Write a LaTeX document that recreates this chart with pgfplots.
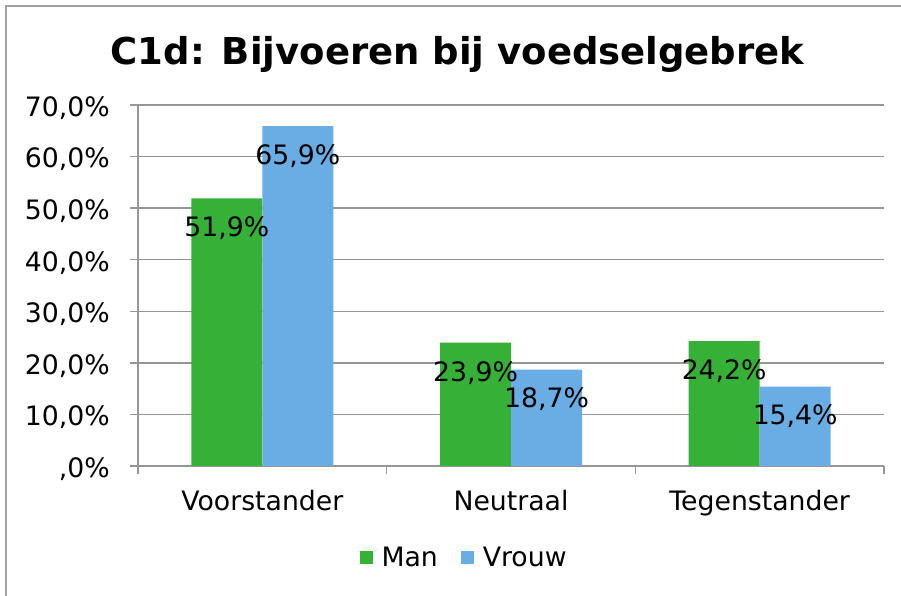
\documentclass[border=0pt]{standalone}
\usepackage{pgfplots}
\pgfplotsset{compat=1.18}
\usepackage{fontspec}
\setmainfont{DejaVu Sans}
\definecolor{mangreen}{RGB}{54,176,55}
\definecolor{vrouwblue}{RGB}{106,173,228}
\definecolor{gridc}{RGB}{150,150,150}
\definecolor{framec}{RGB}{160,160,160}
\newcommand{\lblfont}{\fontsize{26.7bp}{32bp}\selectfont}
\begin{document}
\begin{tikzpicture}
\useasboundingbox (0,0) rectangle (901bp,596bp);
\draw[framec, line width=1.5bp] (6bp,0) -- (6bp,590bp) -- (901bp,590bp);
\node[anchor=base, inner sep=0pt, font=\bfseries\fontsize{37bp}{44bp}\selectfont] at (457.5bp,531bp) {C1d: Bijvoeren bij voedselgebrek};
\begin{axis}[
  at={(138bp,130bp)}, anchor=south west,
  scale only axis, width=746bp, height=361bp,
  /pgf/number format/assume math mode=true,
  ymin=0, ymax=70,
  xmin=-0.5, xmax=2.5,
  ytick={0,10,20,30,40,50,60,70},
  yticklabels={{,0\%},{10,0\%},{20,0\%},{30,0\%},{40,0\%},{50,0\%},{60,0\%},{70,0\%}},
  xtick={-0.5,0.5,1.5,2.5},
  xticklabels={},
  extra x ticks={0,1,2},
  extra x tick labels={Voorstander,Neutraal,Tegenstander},
  extra x tick style={major tick length=0pt, grid=none},
  axis lines=left,
  axis line style={-, draw=gridc, line width=1.5bp},
  tick align=outside,
  major tick length=8bp,
  tick style={draw=gridc, line width=1.5bp},
  ymajorgrids,
  major grid style={draw=gridc, line width=1.5bp},
  ticklabel style={font=\lblfont, inner sep=0pt, text=black},
  yticklabel style={yshift=-3bp},
  yticklabel shift=20bp,
  xticklabel shift=24bp,
  ybar=0pt,
  bar width=71bp,
  nodes near coords={\pgfmathprintnumber[use comma,fixed,fixed zerofill,precision=1]{\pgfplotspointmeta}\%},
  every node near coord/.append style={font=\lblfont, anchor=center, yshift=-30bp, inner sep=0pt, text=black},
  legend style={at={(axis description cs:0.4357,-0.2548)}, anchor=center, draw=none, fill=none,
    legend columns=-1, font=\lblfont, inner sep=0pt,
    nodes={inner sep=0pt},
    /tikz/every even column/.append style={column sep=23bp}},
]
\addplot[fill=mangreen, draw=none, legend image code/.code={\fill[mangreen] (0bp,-6.5bp) rectangle (13bp,6.5bp); \path (22bp,0);}] coordinates {(0,51.9) (1,23.9) (2,24.2)};
\addplot[fill=vrouwblue, draw=none, legend image code/.code={\fill[vrouwblue] (0bp,-6.5bp) rectangle (13bp,6.5bp); \path (22bp,0);}] coordinates {(0,65.9) (1,18.7) (2,15.4)};
\legend{Man,Vrouw}
\end{axis}
\end{tikzpicture}
\end{document}
